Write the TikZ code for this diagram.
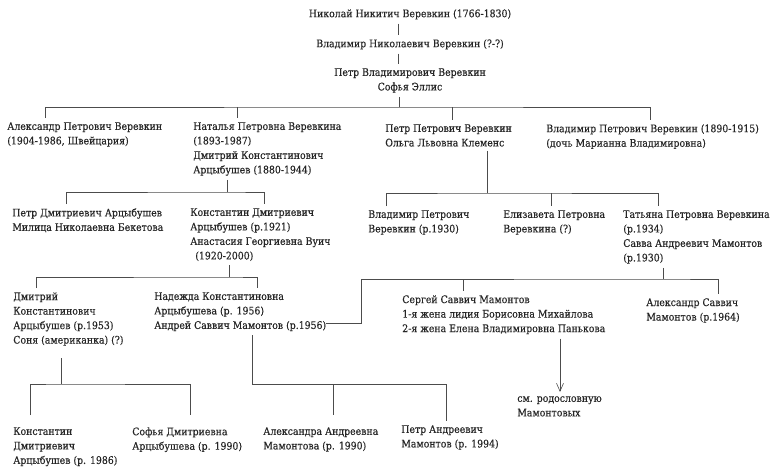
\documentclass[tikz,border=0pt]{standalone}
\usepackage{fontspec}
\setmainfont[FakeBold=0.4]{DejaVu Serif Condensed}
\usetikzlibrary{arrows.meta}

\begin{document}
\begin{tikzpicture}[
    x=1pt, y=-1pt,
    line width=0.6pt,
    every node/.style={font=\fontsize{10.4}{14.5}\selectfont, text=black!85},
    person/.style={anchor=north west, align=left, inner xsep=0pt, inner ysep=4pt},
    link/.style={draw=black!70}
  ]
  \useasboundingbox (0,0) rectangle (776,466);

  \node[person, anchor=north, align=center] (nn) at (410,5) {Николай Никитич Веревкин (1766-1830)};
  \node[person, anchor=north, align=center] (vn) at (410,35) {Владимир Николаевич Веревкин (?-?)};
  \node[person, anchor=north, align=center] (pv) at (410,64) {Петр Владимирович Веревкин\\Софья Эллис};

  \node[person] (ap) at (7,118) {Александр Петрович Веревкин\\(1904-1986, Швейцария)};
  \node[person] (np) at (193,118) {Наталья Петровна Веревкина\\(1893-1987)\\Дмитрий Константинович\\Арцыбушев (1880-1944)};
  \node[person] (pp) at (385,120) {Петр Петрович Веревкин\\Ольга Львовна Клеменс};
  \node[person] (vp) at (546,120) {Владимир Петрович Веревкин (1890-1915)\\(дочь Марианна Владимировна)};

  \node[person] (pd) at (12,204) {Петр Дмитриевич Арцыбушев\\Милица Николаевна Бекетова};
  \node[person] (kd) at (190,204) {Константин Дмитриевич\\Арцыбушев (р.1921)\\Анастасия Георгиевна Вуич\\\hspace*{5pt}(1920-2000)};
  \node[person] (vpp) at (368,206) {Владимир Петрович\\Веревкин (р.1930)};
  \node[person] (ep) at (503,206) {Елизавета Петровна\\Веревкина (?)};
  \node[person] (tp) at (623,206) {Татьяна Петровна Веревкина\\(р.1934)\\Савва Андреевич Мамонтов\\(р.1930)};

  \node[person] (dk) at (13,288) {Дмитрий\\Константинович\\Арцыбушев (р.1953)\\Соня (американка) (?)};
  \node[person] (nk) at (154,288) {Надежда Константиновна\\Арцыбушева (р. 1956)\\Андрей Саввич Мамонтов (р.1956)};
  \node[person] (ss) at (402,291) {Сергей Саввич Мамонтов\\1-я жена лидия Борисовна Михайлова\\2-я жена Елена Владимировна Панькова};
  \node[person] (as) at (646,294) {Александр Саввич\\Мамонтов (р.1964)};
  \node[person] (rod) at (517,392) {см. родословную\\Мамонтовых};

  \node[person] (kdd) at (13,423) {Константин\\Дмитриевич\\Арцыбушев (р. 1986)};
  \node[person] (sd) at (132,423) {Софья Дмитриевна\\Арцыбушева (р. 1990)};
  \node[person] (aa) at (263,423) {Александра Андреевна\\Мамонтова (р. 1990)};
  \node[person] (pa) at (401,421) {Петр Андреевич\\Мамонтов (р. 1994)};

  % direct line
  \coordinate (c0) at (398,0);
  \draw[link] (nn.south -| c0) -- (vn.north -| c0);
  \draw[link] (vn.south -| c0) -- (pv.north -| c0);
  \coordinate (j0) at (399,107);
  \draw[link] (pv.south -| j0) -- (j0);
  \draw[link] (ap.north -| 45,0) |- (j0) -| (vp.north -| 650,0);
  \foreach \x/\c in {237/np,452/pp}
    \draw[link] (\x,0 |- j0) -- (\c.north -| \x,0);

  % Natalya
  \coordinate (j1) at (227,192);
  \draw[link] (np.south -| j1) -- (j1);
  \draw[link] (pd.north -| 66,0) |- (j1) -| (kd.north -| 264,0);

  % Petr Petrovich
  \coordinate (j2) at (487,193);
  \draw[link] (pp.south -| j2) -- (j2);
  \draw[link] (vpp.north -| 386,0) |- (j2) -| (tp.north -| 658,0);
  \draw[link] (551,0 |- j2) -- (ep.north -| 551,0);

  % Konstantin
  \coordinate (j3) at (229,277);
  \draw[link] (kd.south -| j3) -- (j3);
  \draw[link] (dk.north -| 36,0) |- (j3) -| (nk.north -| 257,0);

  % Tatyana
  \coordinate (j4) at (663,279);
  \draw[link] (tp.south -| j4) -- (j4);
  \draw[link] (nk.east |- 0,323) -| (361,0 |- j4) -- (j4) -| (as.north -| 718,0);
  \draw[link] (463,0 |- j4) -- (ss.north -| 463,0);
  \draw[link, -{Straight Barb[length=8pt,width=7pt]}] (ss.south -| 560,0) -- (rod.north -| 560,0);

  % Dmitry
  \coordinate (j5) at (61,384);
  \draw[link, shorten <=8pt] (dk.south -| j5) -- (j5);
  \draw[link, shorten <=8pt, shorten >=8pt] (kdd.north -| 30,0) |- (j5) -| (sd.north -| 190,0);

  % Nadezhda
  \coordinate (j6) at (252,384);
  \draw[link] (nk.south -| j6) -- (j6) -| (pa.north -| 446,0);
  \draw[link, shorten >=8pt] (333,0 |- j6) -- (aa.north -| 333,0);
\end{tikzpicture}
\end{document}
